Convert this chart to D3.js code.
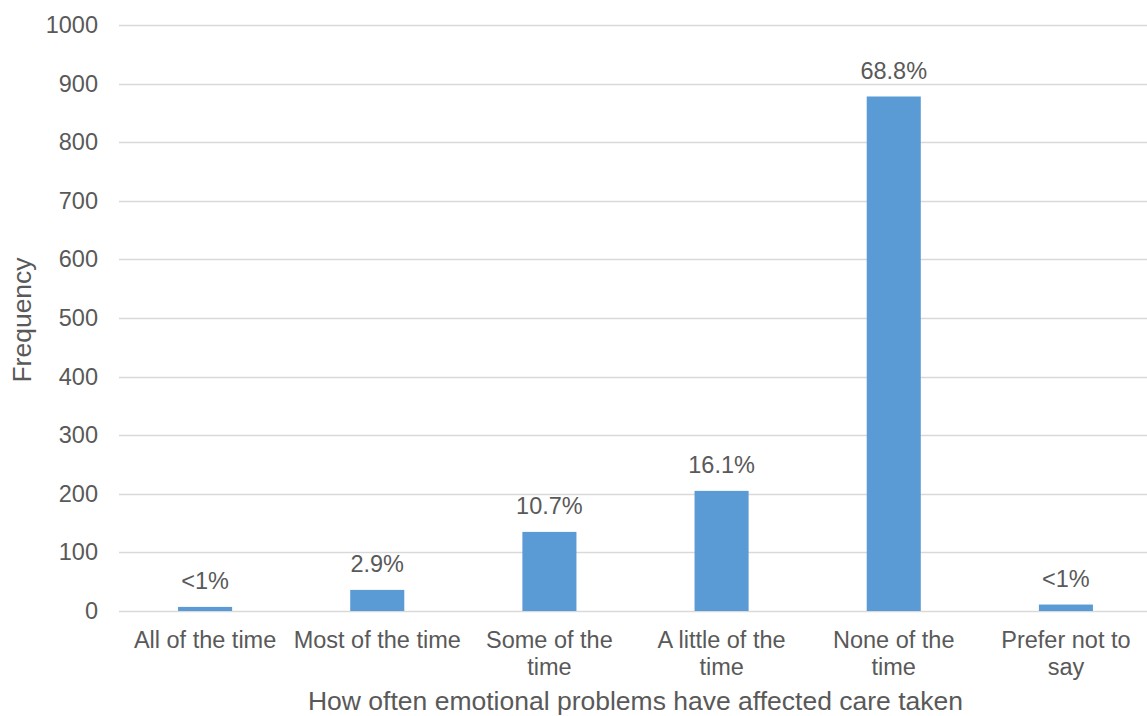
<!DOCTYPE html>
<html>
<head>
<meta charset="utf-8">
<script src="https://cdn.jsdelivr.net/npm/d3@7"></script>
<style>
  html, body { margin: 0; padding: 0; background: #fff; }
  svg { display: block; font-family: "Liberation Sans", Arial, sans-serif; }
</style>
</head>
<body>
<svg id="chart" width="1147" height="716"></svg>
<script>
const categories = ["All of the time", "Most of the time", "Some of the time", "A little of the time", "None of the time", "Prefer not to say"];
const frequencies = [7, 36, 135, 205, 878, 11];
const pctLabels = ["<1%", "2.9%", "10.7%", "16.1%", "68.8%", "<1%"];
const yTicks = [0, 100, 200, 300, 400, 500, 600, 700, 800, 900, 1000];
const xTitle = "How often emotional problems have affected care taken";
const yTitle = "Frequency";

const svg = d3.select("#chart");
const textColor = "#595959";
const gridColor = "#d9d9d9";
const barColor = "#5b9bd5";

const plotLeft = 119, plotRight = 1152, plotTop = 25, plotBottom = 611;

const x = d3.scaleBand().domain(categories).range([plotLeft, plotRight]).paddingInner(0).paddingOuter(0);
const y = d3.scaleLinear().domain([0, 1000]).range([plotBottom, plotTop]);
const barW = x.bandwidth() * 0.314;

// gridlines
svg.append("g").selectAll("line").data(yTicks).join("line")
  .attr("x1", plotLeft).attr("x2", plotRight)
  .attr("y1", d => Math.round(y(d)) + 0.5).attr("y2", d => Math.round(y(d)) + 0.5)
  .attr("stroke", gridColor).attr("stroke-width", 1.3);

// y axis labels
const yAxis = d3.axisLeft(y).tickValues(yTicks).tickSize(0).tickPadding(21).tickFormat(d3.format("d"));
const yg = svg.append("g").attr("transform", `translate(${plotLeft},0)`).call(yAxis);
yg.select(".domain").remove();
yg.selectAll("text").attr("fill", textColor).style("font-size", "23.5px")
  .style("font-family", "'Liberation Sans', Arial, sans-serif");

// bars
svg.append("g").selectAll("rect").data(categories).join("rect")
  .attr("x", d => x(d) + (x.bandwidth() - barW) / 2)
  .attr("width", barW)
  .attr("y", (d, i) => y(frequencies[i]))
  .attr("height", (d, i) => y(0) - y(frequencies[i]))
  .attr("fill", barColor);

// data labels
svg.append("g").selectAll("text").data(categories).join("text")
  .attr("x", d => x(d) + x.bandwidth() / 2)
  .attr("y", (d, i) => y(frequencies[i]) - 17.5)
  .attr("text-anchor", "middle")
  .attr("fill", textColor)
  .style("font-size", "23.5px")
  .text((d, i) => pctLabels[i]);

// x tick labels with wrapping
const xg = svg.append("g");
const measure = svg.append("text").style("font-size", "23.5px").attr("visibility", "hidden");
function wrap(str, maxW) {
  const words = str.split(" ");
  const lines = [];
  let cur = "";
  for (const w of words) {
    const test = cur ? cur + " " + w : w;
    measure.text(test);
    if (measure.node().getComputedTextLength() > maxW && cur) {
      lines.push(cur);
      cur = w;
    } else cur = test;
  }
  if (cur) lines.push(cur);
  return lines;
}
categories.forEach(c => {
  const lines = wrap(c, x.bandwidth() - 2);
  const t = xg.append("text")
    .attr("text-anchor", "middle")
    .attr("fill", textColor)
    .style("font-size", "23.5px");
  lines.forEach((ln, i) => {
    t.append("tspan").attr("x", x(c) + x.bandwidth() / 2).attr("y", 647.5 + i * 27).text(ln);
  });
});
measure.remove();

// axis titles
svg.append("text")
  .attr("x", (plotLeft + 1152) / 2).attr("y", 710)
  .attr("text-anchor", "middle").attr("fill", textColor)
  .style("font-size", "26.5px")
  .text(xTitle);

svg.append("text")
  .attr("transform", `translate(31, ${(plotTop + plotBottom) / 2 + 2}) rotate(-90)`)
  .attr("text-anchor", "middle").attr("fill", textColor)
  .style("font-size", "26.5px")
  .text(yTitle);
</script>
</body>
</html>
